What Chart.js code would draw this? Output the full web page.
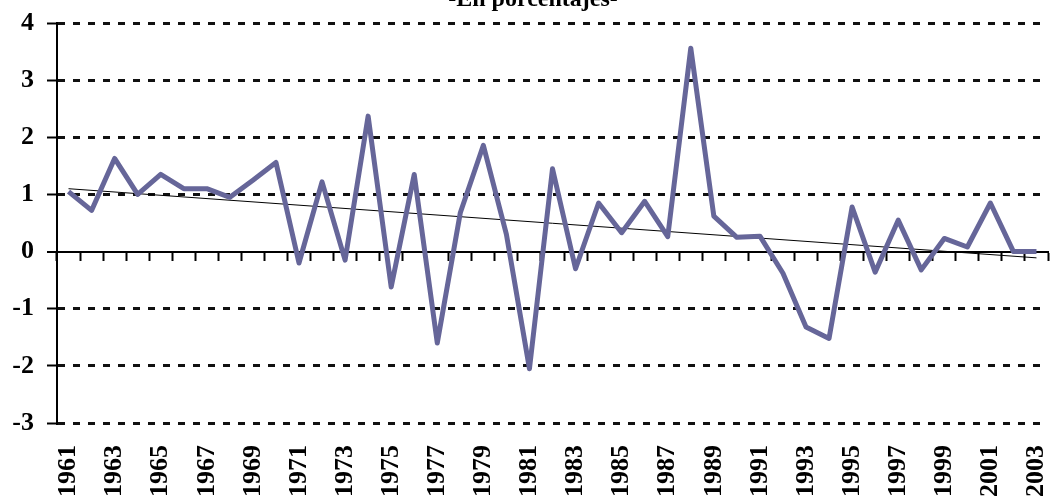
<!DOCTYPE html>
<html>
<head>
<meta charset="utf-8">
<script src="https://cdn.jsdelivr.net/npm/chart.js@4.4.1/dist/chart.umd.min.js"></script>
<style>
  html, body { margin: 0; padding: 0; background: #fff; }
  canvas { display: block; }
</style>
</head>
<body>
<canvas id="myChart" width="1051" height="500"></canvas>
<script>
// Daten
const years = ["1961","1962","1963","1964","1965","1966","1967","1968","1969","1970",
  "1971","1972","1973","1974","1975","1976","1977","1978","1979","1980",
  "1981","1982","1983","1984","1985","1986","1987","1988","1989","1990",
  "1991","1992","1993","1994","1995","1996","1997","1998","1999","2000",
  "2001","2002","2003"];
const values = [1.05, 0.72, 1.63, 1.0, 1.35, 1.1, 1.1, 0.95, 1.25, 1.56,
  -0.2, 1.22, -0.15, 2.37, -0.62, 1.35, -1.6, 0.68, 1.86, 0.3,
  -2.05, 1.45, -0.3, 0.85, 0.33, 0.88, 0.26, 3.56, 0.62, 0.25,
  0.27, -0.38, -1.32, -1.52, 0.78, -0.36, 0.55, -0.32, 0.23, 0.08,
  0.85, 0.0, 0.0];
const trendStart = 1.1;
const trendEnd = -0.11;
const yTicks = [-3, -2, -1, 0, 1, 2, 3, 4];
const titleText = "-En porcentajes-";

const trend = years.map((y, i) => i === 0 ? trendStart : (i === years.length - 1 ? trendEnd : null));

const serif = "'Liberation Serif', 'Times New Roman', serif";

// Titel (oben abgeschnitten wie im Original)
const titlePlugin = {
  id: 'cutTitle',
  afterDraw(chart) {
    const c = chart.ctx;
    c.save();
    c.font = "bold 24px " + serif;
    c.fillStyle = "#000";
    c.textAlign = "center";
    c.textBaseline = "alphabetic";
    c.fillText(titleText, 533, 6);
    c.restore();
  }
};

const ctx = document.getElementById("myChart").getContext("2d");
const myChart = new Chart(ctx, {
  type: 'line',
  data: {
    labels: years,
    datasets: [{
      data: values,
      borderColor: '#666699',
      borderWidth: 5,
      pointRadius: 0,
      tension: 0,
      borderJoinStyle: 'round',
      xAxisID: 'x',
      yAxisID: 'y'
    }, {
      data: trend,
      borderColor: '#000',
      borderWidth: 1,
      pointRadius: 0,
      spanGaps: true,
      xAxisID: 'x',
      yAxisID: 'y'
    }]
  },
  options: {
    responsive: false,
    animation: false,
    events: [],
    layout: { padding: { top: 23, right: 3, left: 0, bottom: 0 } },
    plugins: { legend: { display: false }, tooltip: { enabled: false }, title: { display: false } },
    scales: {
      y: {
        min: -3,
        max: 4,
        afterBuildTicks: s => { s.ticks = yTicks.map(v => ({ value: v })); },
        afterFit: s => { s.width = 57; s.paddingTop = 0; s.paddingBottom = 0; },
        ticks: {
          autoSkip: false,
          color: '#000',
          padding: 13,
          font: { family: serif, size: 26, weight: 'bold' }
        },
        grid: {
          color: '#111',
          lineWidth: c => c.tick && c.tick.value === 0 ? 2 : 3,
          drawTicks: true,
          tickLength: 10,
          tickColor: '#000',
          tickWidth: 2,
          tickBorderDash: []
        },
        border: {
          display: true,
          color: '#000',
          width: 2,
          dash: c => c.tick && c.tick.value === 0 ? [] : [7, 8]
        }
      },
      x: {
        type: 'category',
        position: { y: 0 },
        offset: true,
        afterFit: s => { s.paddingLeft = 0; s.paddingRight = 0; },
        ticks: { display: false, autoSkip: false },
        grid: {
          offset: true,
          drawOnChartArea: false,
          drawTicks: true,
          tickLength: 8,
          tickColor: '#000',
          tickWidth: 2
        },
        border: { display: true, color: '#000', width: 2 }
      },
      x2: {
        type: 'category',
        position: 'bottom',
        offset: true,
        afterFit: s => { s.height = 77; s.paddingLeft = 0; s.paddingRight = 0; },
        ticks: {
          autoSkip: false,
          maxRotation: 90,
          minRotation: 90,
          padding: 22,
          color: '#000',
          font: { family: serif, size: 26, weight: 'bold' },
          callback: function (v, i) { return i % 2 === 0 ? this.getLabelForValue(v) : ''; }
        },
        grid: { display: false, drawTicks: false, tickLength: 0 },
        border: { display: false }
      }
    }
  },
  plugins: [titlePlugin]
});
</script>
</body>
</html>
